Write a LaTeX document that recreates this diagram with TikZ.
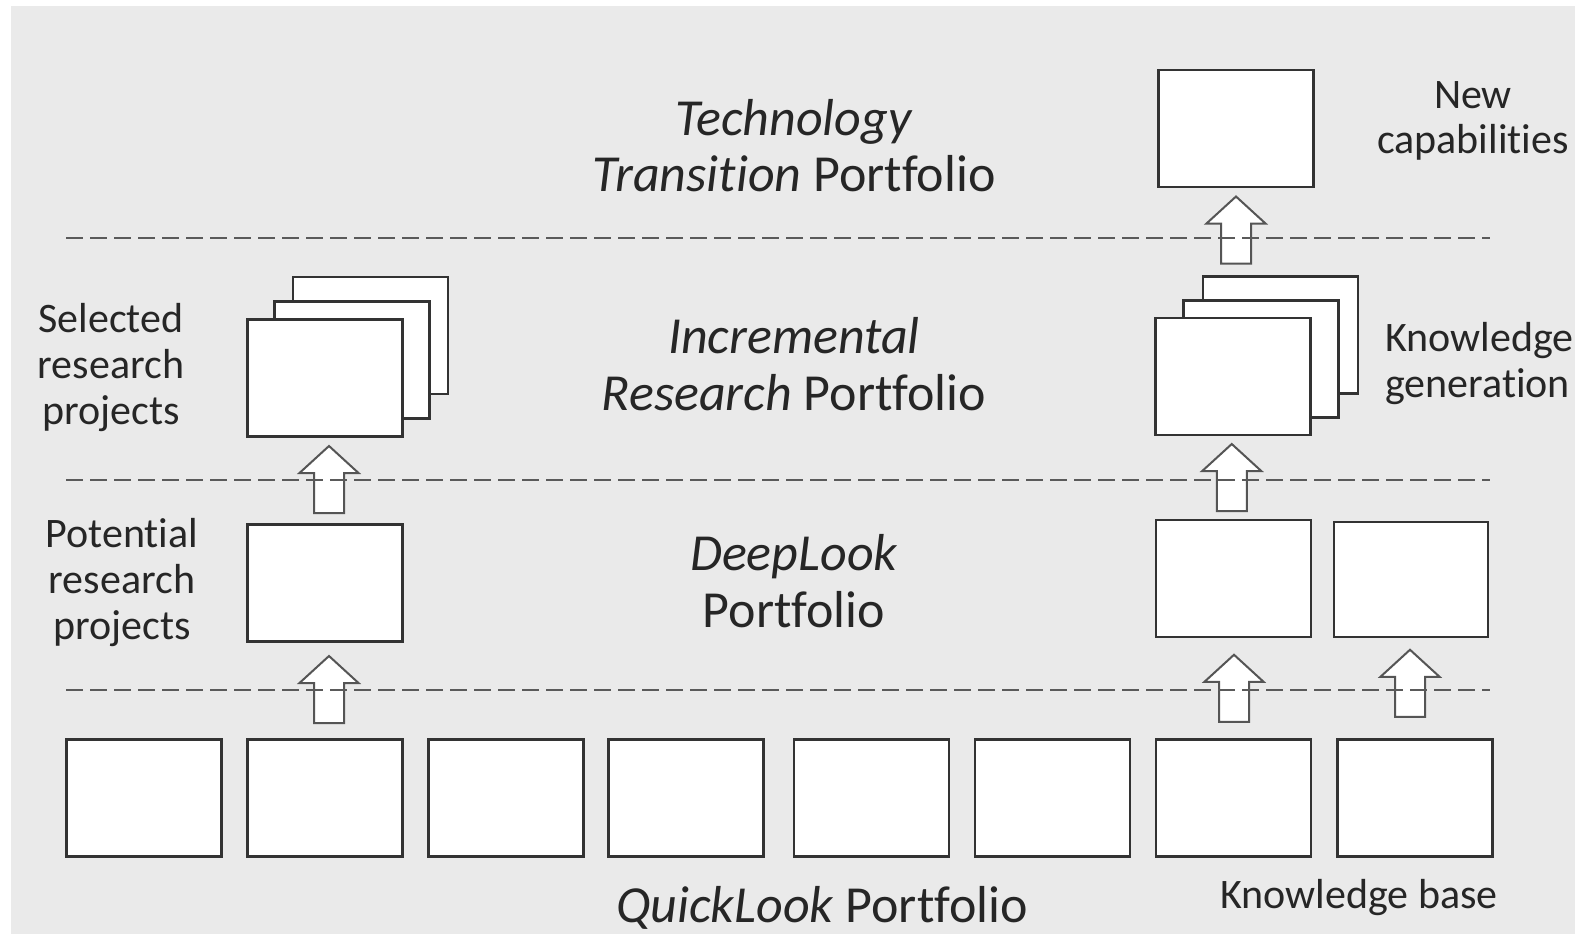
\documentclass[tikz,border=0pt]{standalone}
\usepackage{fontspec}
\setmainfont{Carlito}[Ligatures=NoCommon]
\usetikzlibrary{calc}
\definecolor{bggray}{HTML}{EAEAEA}
\definecolor{edge}{HTML}{333333}
\definecolor{dashgray}{HTML}{5A5A5A}
\definecolor{arrgray}{HTML}{555555}
\definecolor{ink}{HTML}{262626}

\begin{document}
\begin{tikzpicture}[x=1pt,y=-1pt,
  card/.style={draw=edge, fill=white, line width=2.8pt, minimum width=155pt,
    minimum height=117pt, inner sep=0pt, outer sep=0pt},
  tier/.style={draw=dashgray, line width=2.6pt, dash pattern=on 17pt off 7pt},
  title/.style={font=\fontsize{52}{57}\selectfont, text=ink, align=center,
    anchor=base, inner sep=0pt},
  note/.style={font=\fontsize{42}{46}\selectfont, text=ink, align=center,
    anchor=base, inner sep=0pt},
  upblock/.pic={\draw[arrgray, line width=2pt, fill=white, line join=miter]
    (-15,33.5) -- (-15,-6.5) -- (-29.5,-6.5) -- (0,-33.5) -- (29.5,-6.5)
    -- (15,-6.5) -- (15,33.5) -- cycle;}
]
\useasboundingbox (0,0) rectangle (1575,939);
\fill[bggray] (11,6) rectangle (1575,934);

% QuickLook row
\node[card] (q1) at (144,798) {};
\node[card] (q2) at (325,798) {};
\node[card] (q3) at (506,798) {};
\node[card] (q4) at (686,798) {};
\node[card] (q5) at (871.5,798) {};
\node[card] (q6) at (1052.5,798) {};
\node[card] (q7) at (1233.5,798) {};
\node[card] (q8) at (1415,798) {};

% DeepLook row
\node[card] (dp) at (325,583) {};
\node[card] (dk1) at (1233.5,578.5) {};
\node[card, minimum width=154pt, minimum height=115pt] (dk2) at (1411,579.5) {};

% Incremental research stacks
\node[card] (sa1) at (370.5,335.5) {};
\node[card] (sa2) at (352,360) {};
\node[card] (sa3) at (325,378) {};
\node[card] (sb1) at (1280.5,335) {};
\node[card] (sb2) at (1261,359) {};
\node[card] (sb3) at (1233,376.5) {};

% Technology transition
\node[card] (nc) at (1236,128.5) {};

% Upward block arrows
\pic at ($(q2.north)!0.5!(dp.south)+(4,-1)$) {upblock};
\pic at ($(dp.north)!0.5!(sa3.south)+(4,-1)$) {upblock};
\pic at ($(q7.north)!0.5!(dk1.south)+(0.5,0)$) {upblock};
\pic at ($(q8.north)!0.5!(dk2.south)+(-3,-5)$) {upblock};
\pic at ($(dk1.north)!0.5!(sb3.south)+(-1.5,0)$) {upblock};
\pic at ($(nc.south)+(0,43)$) {upblock};

% Tier separators
\coordinate (t1w) at (66,238);  \coordinate (t1e) at (1490,238);
\coordinate (t2w) at (66,480);  \coordinate (t2e) at (1490,480);
\coordinate (t3w) at (66,690);  \coordinate (t3e) at (1490,690);
\draw[tier] (t1w) -- (t1e);
\draw[tier] (t2w) -- (t2e);
\draw[tier] (t3w) -- (t3e);

% Portfolio titles (anchored at the baseline of the last line)
\node[title] (tt) at (794,192) {\textit{Technology}\\\textit{Transition} Portfolio};
\node[title] (ir) at (794,410) {\textit{Incremental}\\\textit{Research} Portfolio};
\node[title] (dl) at (794,627) {\textit{DeepLook}\\Portfolio};
\node[title] (ql) at (822,922) {\textit{QuickLook} Portfolio};

% Side notes
\node[note] (sel) at (111,424) {Selected\\research\\projects};
\node[note] (pot) at (122,639) {Potential\\research\\projects};
\node[note] (cap) at (1473,154) {New\\capabilities};
\node[note, align=left, anchor=base west] (kg) at (1385,397) {Knowledge\\generation};
\node[note] (kb) at (1359,908) {Knowledge base};
\end{tikzpicture}
\end{document}
